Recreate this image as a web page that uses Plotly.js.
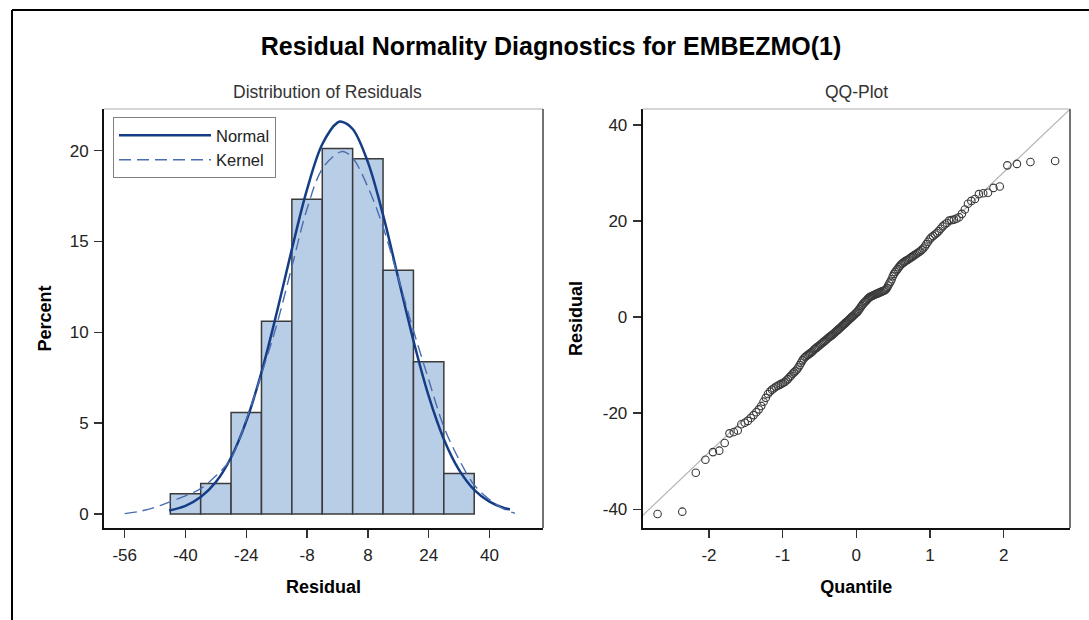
<!DOCTYPE html>
<html><head><meta charset="utf-8">
<script src="https://cdn.plot.ly/plotly-3.0.1.min.js"></script>
<style>html,body{margin:0;padding:0;background:#fff}#chart{width:1089px;height:620px}</style>
</head><body><div id="chart"></div>
<script>
// ---- Histogram (percent per bin of width 8) ----
const binCenters = [-40, -32, -24, -16, -8, 0, 8, 16, 24, 32];
const binWidth = 8;
const binPercent = [1.12, 1.68, 5.59, 10.61, 17.32, 20.11, 19.55, 13.41, 8.38, 2.23];

// ---- Fitted normal curve ----
const normalX = [-44.3, -40, -36, -32, -28, -24, -20, -16, -12, -8, -4, 0, 1.1, 4, 8, 12, 16, 20, 24, 28, 32, 36, 40, 44, 45.4];
const normalY = [0.19, 0.45, 0.93, 1.76, 3.11, 5.11, 7.80, 11.06, 14.58, 17.87, 20.35, 21.54, 21.59, 21.19, 19.37, 16.46, 12.99, 9.54, 6.50, 4.12, 2.43, 1.33, 0.68, 0.32, 0.26];

// ---- Kernel density curve ----
const kernelX = [-56, -52, -48, -44, -40, -36, -32, -28, -24, -20, -16, -12, -8, -4, 0, 1.5, 4, 8, 12, 16, 20, 24, 28, 32, 36, 40, 44, 46.7];
const kernelY = [0.02, 0.15, 0.37, 0.68, 1.0, 1.4, 2.1, 3.06, 5.2, 7.7, 10.4, 13.6, 16.8, 19.0, 19.85, 19.95, 19.6, 18.0, 15.8, 13.0, 10.1, 7.4, 4.8, 3.0, 1.6, 0.8, 0.25, 0.04];

// ---- Sorted residuals (n = 179) for the QQ plot ----
const residuals = [
 -41.0,-40.5,-32.4,-29.7,-28.1,
 -27.8,-26.2,-24.2,-23.9,-23.6,-22.3,-22.0,-21.6,-21.0,-20.4,
 -19.8,-19.2,-18.5,-17.6,-16.8,-16.0,-15.5,-15.1,-14.8,-14.5,-14.3,-14.1,-13.9,-13.7,-13.5,-13.2,-12.9,-12.5,-12.2,
 -11.8,-11.5,-11.2,-10.9,-10.5,-10.0,-9.5,-9.0,-8.6,-8.3,-8.1,-7.9,-7.7,-7.5,-7.3,-7.1,-6.8,-6.6,-6.4,-6.2,-6.0,-5.8,-5.6,-5.4,-5.2,-5.0,-4.8,-4.6,-4.4,-4.2,-4.05,
 -3.9,-3.7,-3.5,-3.3,-3.1,-2.9,-2.7,-2.5,-2.3,-2.1,-1.9,-1.7,-1.5,-1.3,-1.1,-0.9,-0.7,-0.5,-0.3,-0.1,0.1,0.3,0.5,0.7,0.9,1.1,1.4,1.7,2.0,2.3,2.6,2.9,3.1,3.3,3.5,3.8,
 4.0,4.2,4.3,4.4,4.5,4.6,4.7,4.8,4.9,5.0,5.1,5.2,5.3,5.4,5.5,5.6,5.8,6.1,6.6,7.0,7.4,7.9,8.5,9.0,9.4,9.7,10.0,10.4,10.7,11.0,11.2,11.4,11.6,11.8,11.9,
 12.1,12.3,12.5,12.7,12.9,13.1,13.3,13.5,13.7,14.0,14.3,14.7,15.2,15.7,16.2,16.6,16.9,17.2,17.5,17.9,18.4,18.9,19.3,19.6,
 20.1,20.2,20.3,20.5,20.8,21.5,22.4,23.6,24.2,24.6,25.6,25.8,25.9,26.9,27.2,
 31.6,31.9,32.3,32.5
];
// reference line: residual = refMean + refSD * quantile
const refMean = 1.0;
const refSD = 14.58;

// ---- Tick labels ----
const histTickVals = [-56, -40, -24, -8, 8, 24, 40];
const histTickText = ['-56', '-40', '-24', '-8', '8', '24', '40'];
const pctTickVals = [0, 5, 10, 15, 20];
const pctTickText = ['0', '5', '10', '15', '20'];
const qTickVals = [-2, -1, 0, 1, 2];
const qTickText = ['-2', '-1', '0', '1', '2'];
const resTickVals = [-40, -20, 0, 20, 40];
const resTickText = ['-40', '-20', '0', '20', '40'];

// Normal quantile (Acklam) for QQ positions (Blom scores)
function invNorm(p){
 const a=[-3.969683028665376e+01,2.209460984245205e+02,-2.759285104469687e+02,1.383577518672690e+02,-3.066479806614716e+01,2.506628277459239e+00];
 const b=[-5.447609879822406e+01,1.615858368580409e+02,-1.556989798598866e+02,6.680131188771972e+01,-1.328068155288572e+01];
 const c=[-7.784894002430293e-03,-3.223964580411365e-01,-2.400758277161838e+00,-2.549732539343734e+00,4.374664141464968e+00,2.938163982698783e+00];
 const d=[7.784695709041462e-03,3.224671290700398e-01,2.445134137142996e+00,3.754408661907416e+00];
 const pl=0.02425, ph=1-pl; let q,r;
 if(p<pl){q=Math.sqrt(-2*Math.log(p));return (((((c[0]*q+c[1])*q+c[2])*q+c[3])*q+c[4])*q+c[5])/((((d[0]*q+d[1])*q+d[2])*q+d[3])*q+1);}
 if(p<=ph){q=p-0.5;r=q*q;return (((((a[0]*r+a[1])*r+a[2])*r+a[3])*r+a[4])*r+a[5])*q/(((((b[0]*r+b[1])*r+b[2])*r+b[3])*r+b[4])*r+1);}
 q=Math.sqrt(-2*Math.log(1-p));return -(((((c[0]*q+c[1])*q+c[2])*q+c[3])*q+c[4])*q+c[5])/((((d[0]*q+d[1])*q+d[2])*q+d[3])*q+1);
}
const n = residuals.length;
const quantiles = residuals.map((_, i) => invNorm((i + 1 - 0.375) / (n + 0.25)));
const refX = [-3.5, 3.5];
const refY = refX.map(q => refMean + refSD * q);

const W = 1089, H = 620;
const px = v => v / W;
const py = v => 1 - v / H;
const FONT = 'Liberation Sans, Arial, Helvetica, sans-serif';

const traces = [
 {type:'bar', x:binCenters, y:binPercent, width:binCenters.map(()=>binWidth), xaxis:'x', yaxis:'y',
  marker:{color:'#b8cde6', line:{color:'#3b3b3b', width:1.5}}, showlegend:false, hoverinfo:'x+y'},
 {type:'scatter', mode:'lines', x:normalX, y:normalY, xaxis:'x', yaxis:'y', name:'Normal',
  line:{color:'#143d85', width:2.5, shape:'spline', smoothing:1}},
 {type:'scatter', mode:'lines', x:kernelX, y:kernelY, xaxis:'x', yaxis:'y', name:'Kernel',
  line:{color:'#4a6db0', width:1.4, dash:'12px,6px', shape:'spline', smoothing:1}},
 {type:'scatter', mode:'lines', x:refX, y:refY, xaxis:'x2', yaxis:'y2', showlegend:false,
  line:{color:'#b5b5b5', width:1.2}, hoverinfo:'skip'},
 {type:'scatter', mode:'markers', x:quantiles, y:residuals, xaxis:'x2', yaxis:'y2', showlegend:false,
  marker:{symbol:'circle-open', size:7.5, color:'#3a3a3a', line:{width:1.1, color:'#3a3a3a'}}}
];

const axBase = {showgrid:false, zeroline:false, showline:true, linecolor:'#111', linewidth:2,
 ticks:'outside', ticklen:8, tickwidth:1.5, tickcolor:'#333', tickfont:{family:FONT, size:17, color:'#222'}, mirror:false, fixedrange:true};
const xTitleFont = {family:FONT, size:18, color:'#000', weight:'bold'};

const layout = {
 width:W, height:H, margin:{l:0, r:0, t:0, b:0}, paper_bgcolor:'#fff', plot_bgcolor:'#fff',
 font:{family:FONT, color:'#222'},
 title:{text:'Residual Normality Diagnostics for EMBEZMO(1)', x:px(551), xanchor:'center', xref:'paper', y:py(46), yanchor:'middle', yref:'paper',
  font:{family:FONT, size:25, color:'#000', weight:'bold'}},
 showlegend:true,
 legend:{x:px(113), y:py(117), xanchor:'left', yanchor:'top', bordercolor:'#808080', borderwidth:1, bgcolor:'#fff',
  font:{family:FONT, size:16.5, color:'#222'}, itemwidth:92, tracegroupgap:0},
 xaxis:Object.assign({}, axBase, {domain:[px(104), px(543)], range:[-61.45, 54.1], anchor:'y',
  tickvals:histTickVals, ticktext:histTickText, ticklabelstandoff:3,
  title:{text:'Residual', font:xTitleFont, standoff:16}}),
 yaxis:Object.assign({}, axBase, {domain:[py(528), py(109)], range:[-0.77, 22.29], anchor:'x',
  tickvals:pctTickVals, ticktext:pctTickText, ticklabelstandoff:2,
  title:{text:'Percent', font:xTitleFont, standoff:13}}),
 xaxis2:Object.assign({}, axBase, {domain:[px(642.7), px(1070)], range:[-2.9, 2.9], anchor:'y2',
  tickvals:qTickVals, ticktext:qTickText, ticklabelstandoff:3,
  title:{text:'Quantile', font:xTitleFont, standoff:16}}),
 yaxis2:Object.assign({}, axBase, {domain:[py(528), py(109)], range:[-43.9, 43.33], anchor:'x2',
  tickvals:resTickVals, ticktext:resTickText, ticklabelstandoff:2,
  title:{text:'Residual', font:xTitleFont, standoff:15}}),
 shapes:[
  // outer frame (top and left edges visible)
  {type:'line', xref:'paper', yref:'paper', x0:px(12), x1:1.01, y0:py(10), y1:py(10), line:{color:'#000', width:2}},
  {type:'line', xref:'paper', yref:'paper', x0:px(12), x1:px(12), y0:py(10), y1:-0.01, line:{color:'#000', width:2}},
  // plot wall borders
  {type:'line', xref:'x domain', yref:'y domain', x0:0, x1:1, y0:1, y1:1, line:{color:'#c8c8c8', width:1.5}},
  {type:'line', xref:'x domain', yref:'y domain', x0:1, x1:1, y0:0, y1:1, line:{color:'#444', width:1.5}},
  {type:'line', xref:'x2 domain', yref:'y2 domain', x0:0, x1:1, y0:1, y1:1, line:{color:'#c8c8c8', width:1.5}},
  {type:'line', xref:'x2 domain', yref:'y2 domain', x0:1, x1:1, y0:0, y1:1, line:{color:'#444', width:1.5}}
 ],
 annotations:[
  {text:'Distribution of Residuals', xref:'paper', yref:'paper', x:px(327), y:py(92), xanchor:'center', yanchor:'middle', showarrow:false,
   font:{family:FONT, size:17.5, color:'#333'}},
  {text:'QQ-Plot', xref:'paper', yref:'paper', x:px(856), y:py(92), xanchor:'center', yanchor:'middle', showarrow:false,
   font:{family:FONT, size:17.5, color:'#333'}}
 ]
};

Plotly.newPlot('chart', traces, layout, {displayModeBar:false, staticPlot:true});
</script>
</body></html>
